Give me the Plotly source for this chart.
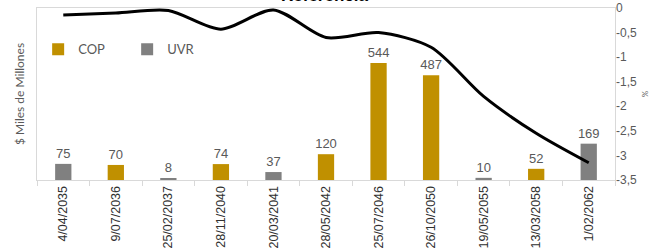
import plotly.graph_objects as go

categories = ["4/04/2035", "9/07/2036", "25/02/2037", "28/11/2040", "20/03/2041",
              "28/05/2042", "25/07/2046", "26/10/2050", "19/05/2055", "13/03/2058", "1/02/2062"]
cop_values = [None, 70, None, 74, None, 120, 544, 487, None, 52, None]
uvr_values = [75, None, 8, None, 37, None, None, None, 10, None, 169]
line_values = [-0.14, -0.1, -0.05, -0.43, -0.04, -0.6, -0.5, -0.8, -1.8, -2.55, -3.15]
right_ticks = [0, -0.5, -1, -1.5, -2, -2.5, -3, -3.5]
right_ticktext = ["0", "-0,5", "-1", "-1,5", "-2", "-2,5", "-3", "-3,5"]

label_font = dict(family="Liberation Sans", size=13, color="#595959")

fig = go.Figure()
fig.add_trace(go.Bar(x=categories, y=cop_values, name="COP", marker_color="#C09000",
                     width=0.31, text=[("" if v is None else str(v)) for v in cop_values],
                     textposition="outside", textfont=label_font, cliponaxis=False,
                     constraintext="none"))
fig.add_trace(go.Bar(x=categories, y=uvr_values, name="UVR", marker_color="#808080",
                     width=0.31, text=[("" if v is None else str(v)) for v in uvr_values],
                     textposition="outside", textfont=label_font, cliponaxis=False,
                     constraintext="none"))
fig.add_trace(go.Scatter(x=categories, y=line_values, yaxis="y2", mode="lines",
                         line=dict(color="#000000", width=3, shape="spline", smoothing=0.8),
                         showlegend=False, cliponaxis=False))

fig.update_layout(
    template="none",
    width=663, height=248,
    margin=dict(l=37, r=48, t=8, b=68, autoexpand=False),
    paper_bgcolor="white", plot_bgcolor="white",
    barmode="overlay",
    separators=",.",
    showlegend=True,
    legend=dict(orientation="h", x=0.002, y=0.76, xanchor="left", yanchor="middle",
                font=dict(family="Lato", size=13, color="#595959"),
                bgcolor="rgba(0,0,0,0)", itemwidth=30, traceorder="normal",
                entrywidth=44),
    xaxis=dict(type="category", tickangle=-90, automargin=False,
               tickfont=dict(family="Liberation Sans", size=12.5, color="#303030"),
               showline=True, linecolor="#d9d9d9", linewidth=1, mirror=True,
               ticks="outside", tickson="boundaries", ticklen=5, tickcolor="#d9d9d9",
               showgrid=False),
    yaxis=dict(range=[0, 800], showticklabels=False, showgrid=False, automargin=False,
               showline=True, linecolor="#d9d9d9", linewidth=1, mirror=True, zeroline=False,
               ticks="",
               title=dict(text="$ Miles de Millones",
                          font=dict(family="Lato", size=12, color="#595959"),
                          standoff=8)),
    yaxis2=dict(overlaying="y", side="right", range=[-3.5, 0], automargin=False,
                tickvals=right_ticks, ticktext=right_ticktext,
                tickfont=dict(family="Liberation Sans", size=12, color="#595959"),
                showgrid=False, zeroline=False, showline=False, ticks="",
                title=dict(text="%", font=dict(family="Lato", size=8, color="#595959"),
                           standoff=6)),
    annotations=[dict(text="<b>Referencia</b>", xref="paper", yref="paper",
                      x=0.498, y=1, yanchor="bottom", yshift=1, showarrow=False,
                      font=dict(family="Liberation Sans", size=17, color="#000000"))],
)

fig.write_html("out.html", config={"displayModeBar": False},
               post_script="document.body.style.margin='0';document.body.style.overflow='hidden';")
